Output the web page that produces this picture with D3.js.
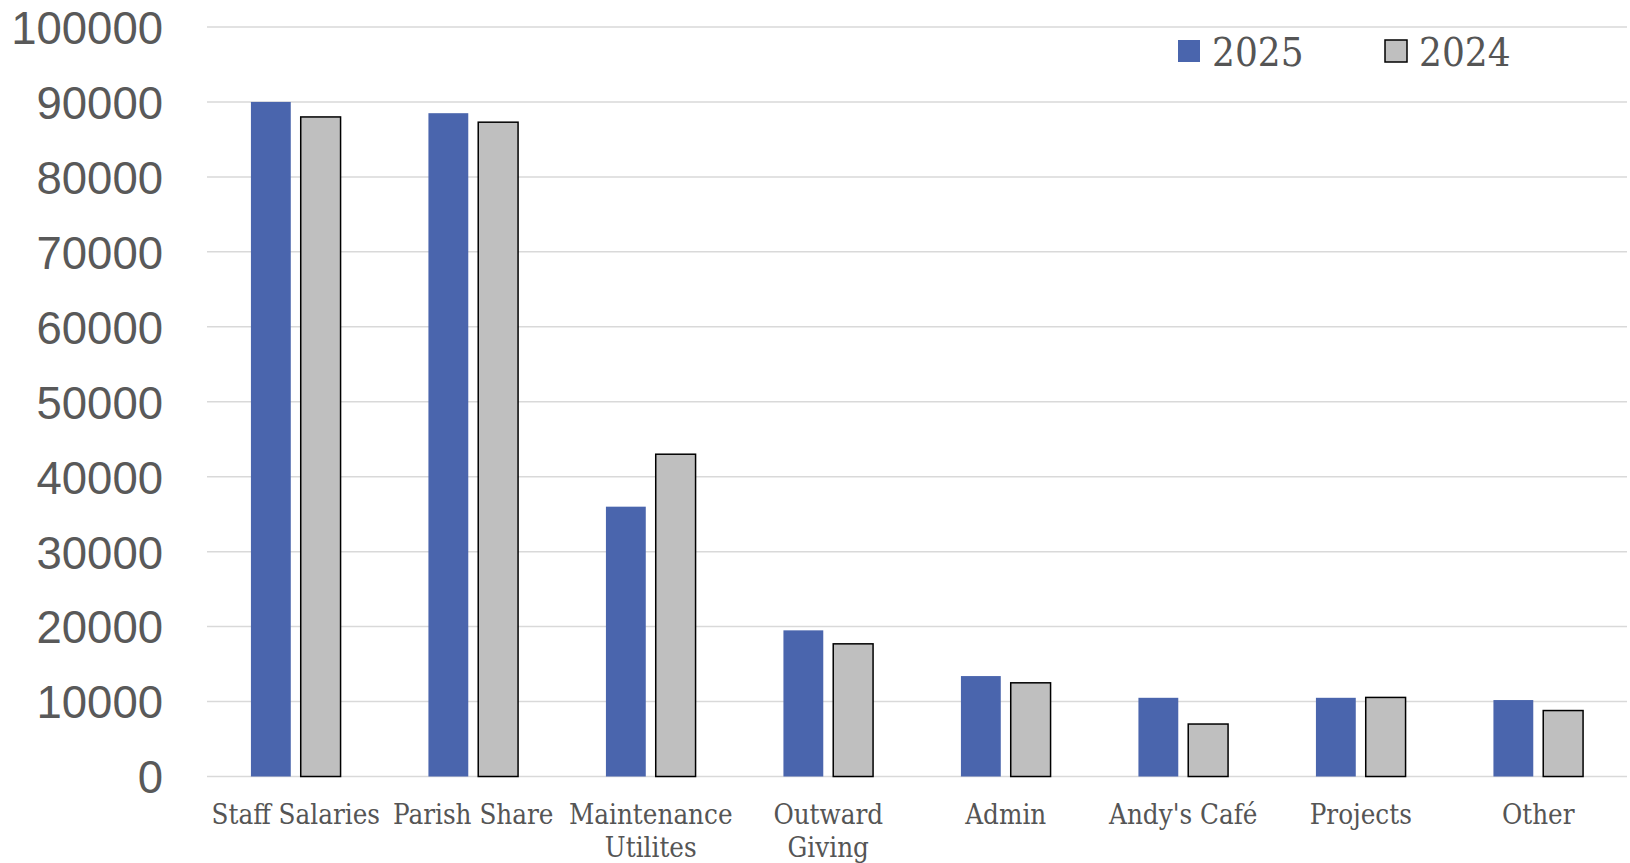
<!DOCTYPE html>
<html>
<head>
<meta charset="utf-8">
<script src="https://cdn.jsdelivr.net/npm/d3@7"></script>
<style>
  html, body { margin: 0; padding: 0; background: #fff; }
  svg { display: block; }
</style>
</head>
<body>
<svg id="chart" width="1630" height="863"></svg>
<script>
const categories = ["Staff Salaries", "Parish Share", "Maintenance Utilites", "Outward Giving", "Admin", "Andy's Café", "Projects", "Other"];
const seriesNames = ["2025", "2024"];
const values2025 = [90000, 88500, 36000, 19500, 13400, 10500, 10500, 10200];
const values2024 = [88000, 87300, 43000, 17700, 12500, 7000, 10550, 8800];
const yTicks = [0, 10000, 20000, 30000, 40000, 50000, 60000, 70000, 80000, 90000, 100000];

const seriesValues = { "2025": values2025, "2024": values2024 };
const colors = { "2025": "#4a65ad", "2024": "#bfbfbf" };
const strokes = { "2025": "none", "2024": "#000" };

const svg = d3.select("#chart");
const plotLeft = 207, plotRight = 1627, plotTop = 27, plotBottom = 776.5;

const x = d3.scaleBand().domain(categories).range([plotLeft, plotRight]).paddingInner(0).paddingOuter(0);
const groupW = x.bandwidth() * 0.505;
const xs = d3.scaleBand().domain(seriesNames).range([0, groupW]).paddingInner(0.2);
const groupOff = (x.bandwidth() - groupW) / 2;
const y = d3.scaleLinear().domain([0, 100000]).range([plotBottom, plotTop]);

// gridlines
svg.append("g").selectAll("line").data(yTicks).join("line")
  .attr("x1", plotLeft).attr("x2", plotRight)
  .attr("y1", d => y(d)).attr("y2", d => y(d))
  .attr("stroke", "#d9d9d9").attr("stroke-width", 1.5);

// y axis labels
const yAxis = d3.axisLeft(y).tickValues(yTicks).tickSize(0).tickPadding(0).tickFormat(d3.format("d"));
const yg = svg.append("g").attr("transform", `translate(163,0)`).call(yAxis);
yg.select(".domain").remove();
yg.selectAll("text")
  .attr("font-family", "'Liberation Sans', Arial, sans-serif")
  .attr("font-size", 45.5).attr("fill", "#595959").attr("dy", "0.36em");

// bars
const groups = svg.append("g").selectAll("g").data(categories).join("g")
  .attr("transform", d => `translate(${x(d) + groupOff},0)`);
groups.selectAll("rect").data((c, i) => seriesNames.map(s => ({ s, v: seriesValues[s][i] }))).join("rect")
  .attr("x", d => xs(d.s))
  .attr("width", xs.bandwidth())
  .attr("y", d => y(d.v))
  .attr("height", d => y(0) - y(d.v))
  .attr("fill", d => colors[d.s])
  .attr("stroke", d => strokes[d.s])
  .attr("stroke-width", 1.5);

// x labels with wrapping
const xFont = "'DejaVu Serif', serif";
const xl = svg.append("g").selectAll("text").data(categories).join("text")
  .attr("x", d => x(d) + x.bandwidth() / 2)
  .attr("y", 824)
  .attr("text-anchor", "middle")
  .attr("font-family", xFont)
  .attr("font-stretch", "condensed")
  .attr("font-size", 27.5)
  .attr("fill", "#555555");
xl.each(function(d) {
  const t = d3.select(this);
  const words = d.split(" ");
  let line = [], lines = [];
  const tmp = t.append("tspan");
  words.forEach(w => {
    const test = line.concat([w]).join(" ");
    tmp.text(test);
    if (tmp.node().getComputedTextLength() > x.bandwidth() && line.length) {
      lines.push(line.join(" "));
      line = [w];
    } else line.push(w);
  });
  lines.push(line.join(" "));
  tmp.remove();
  lines.forEach((l, i) => {
    t.append("tspan").attr("x", x(d) + x.bandwidth() / 2).attr("dy", i === 0 ? 0 : 33).text(l);
  });
});

// legend
const legX = [1178, 1385];
const lg = svg.append("g").selectAll("g").data(seriesNames).join("g")
  .attr("transform", (d, i) => `translate(${legX[i]},0)`);
lg.append("rect").attr("x", 0).attr("y", 40).attr("width", 22).attr("height", 22)
  .attr("fill", d => colors[d]).attr("stroke", d => strokes[d]).attr("stroke-width", 1.5);
lg.append("text").attr("x", 34).attr("y", 66).text(d => d)
  .attr("font-family", xFont).attr("font-stretch", "condensed")
  .attr("font-size", 40).attr("fill", "#555555");
</script>
</body>
</html>
